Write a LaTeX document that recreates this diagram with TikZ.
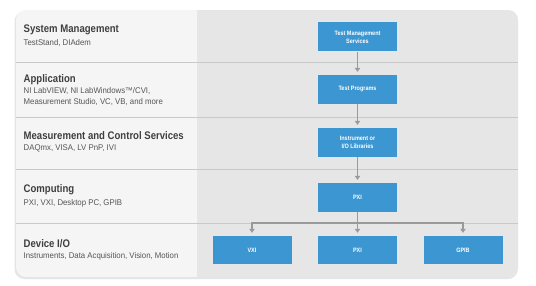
\documentclass[tikz,border=0pt]{standalone}
\usepackage{fontspec}
\setmainfont{Liberation Sans}[FakeStretch=0.87]
\newfontfamily\subfont{Liberation Sans}[FakeStretch=0.94]
\usetikzlibrary{arrows.meta}
\definecolor{panelL}{HTML}{F5F5F5}
\definecolor{panelR}{HTML}{E6E6E6}
\definecolor{divider}{HTML}{C9C9C9}
\definecolor{nblue}{HTML}{3C96D2}
\definecolor{arrowgray}{HTML}{9A9A9A}
\definecolor{titlec}{HTML}{3F3F3F}
\definecolor{subc}{HTML}{555555}
\begin{document}
\begin{tikzpicture}[x=1pt,y=-1pt,
  box/.style={fill=nblue, minimum width=79pt, minimum height=29pt, inner sep=1pt, text=white,
    font=\fontsize{6.3}{8.2}\selectfont\bfseries, align=center},
  ttl/.style={anchor=west, inner sep=0pt, text=titlec, font=\fontsize{11}{13}\selectfont\bfseries},
  subt/.style={anchor=west, inner sep=0pt, text=subc, font=\subfont\fontsize{8.3}{10.2}\selectfont, align=left},
  arr/.style={draw=arrowgray, line width=1.8pt, -{Triangle[width=5.5pt,length=4pt]}, shorten >=3pt},
  divline/.style={draw=divider, line width=0.8pt}
]
\fill[white] (0,0) rectangle (536,286);
\useasboundingbox (0,0) rectangle (536,286);
% panel shadow
\fill[black!10, rounded corners=10pt] (14.5,11.5) rectangle (518,279);
\begin{scope}
  \clip[rounded corners=10pt] (16,10) rectangle (518,277);
  \fill[panelL] (16,10) rectangle (518,277);
  \fill[panelR] (197,10) rectangle (518,277);
  \foreach \yy in {62,117,169,223} \draw[divline] (16,\yy) -- (518,\yy);
\end{scope}

% row labels
\node[ttl] (t1) at (23.5,29.5) {System Management};
\node[subt] (s1) at (23.5,43) {TestStand, DIAdem};
\node[ttl] (t2) at (23.5,79.5) {Application};
\node[subt] (s2) at (23.5,96.5) {NI LabVIEW, NI LabWindows™/CVI,\\Measurement Studio, VC, VB, and more};
\node[ttl] (t3) at (23.5,136) {Measurement and Control Services};
\node[subt] (s3) at (23.5,148.7) {DAQmx, VISA, LV PnP, IVI};
\node[ttl] (t4) at (23.5,190) {Computing};
\node[subt] (s4) at (23.5,203) {PXI, VXI, Desktop PC, GPIB};
\node[ttl] (t5) at (23.5,243.8) {Device I/O};
\node[subt] (s5) at (23.5,256.5) {Instruments, Data Acquisition, Vision, Motion};

% boxes
\node[box] (tms) at (357.5,37) {Test Management\\Services};
\node[box] (tp) at (357.5,89.5) {Test Programs};
\node[box] (iol) at (357.5,142.5) {Instrument or\\I/O Libraries};
\node[box] (pxi) at (357.5,197.5) {PXI};
\node[box, minimum height=28pt] (vxi) at (252,250) {VXI};
\node[box, minimum height=28pt] (pxib) at (357.5,250) {PXI};
\node[box, minimum height=28pt] (gpib) at (463,250) {GPIB};

% connectors
\draw[arr] (tms.south) -- (tp.north);
\draw[arr] (tp.south) -- (iol.north);
\draw[arr] (iol.south) -- (pxi.north);
\coordinate (br) at (357.5,223);
\draw[arr] (pxi.south) -- (br) -| (vxi.north);
\draw[arr] (pxi.south) -- (pxib.north);
\draw[arr] (pxi.south) -- (br) -| (gpib.north);
\end{tikzpicture}
\end{document}
